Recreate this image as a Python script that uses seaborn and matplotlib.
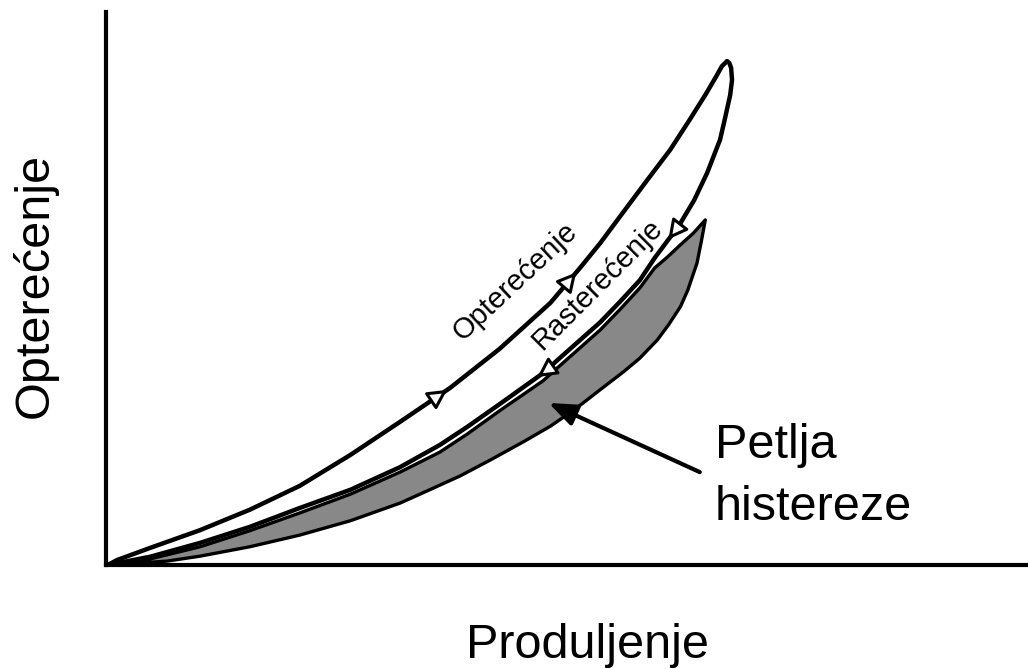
import numpy as np
import pandas as pd
import matplotlib
matplotlib.use("Agg")
import matplotlib.pyplot as plt
import seaborn as sns

# ---- data (x = elongation, y = load, arbitrary units 0..100)
loading_x = [0.2, 1.2, 4.8, 10.2, 15.6, 21.0, 26.5, 31.9, 37.3, 42.7, 48.2, 51.4,
             53.6, 56.1, 58.7, 61.2, 63.3, 65.0, 66.2, 66.8, 67.35]
loading_y = [0.0, 0.9, 3.1, 6.3, 10.0, 14.3, 19.9, 25.9, 32.0, 39.1, 47.4, 53.7,
             58.2, 63.8, 69.6, 75.1, 80.5, 85.0, 88.4, 90.2, 91.1]

unloading_x = [67.35, 67.6, 67.8, 67.9, 67.7, 67.1, 66.6, 65.2, 63.8, 62.3, 61.2, 59.5,
               57.9, 55.8, 53.6, 49.2, 47.4, 42.7, 39.2, 36.2, 31.9, 26.5, 21.0, 15.6,
               10.2, 4.8, 0.2]
unloading_y = [91.1, 90.8, 89.9, 87.7, 85.0, 80.5, 76.9, 70.9, 66.0, 61.8, 59.3, 55.5,
               51.5, 47.7, 43.9, 37.4, 34.7, 29.1, 25.0, 21.7, 17.7, 13.6, 10.3, 6.9,
               4.0, 1.5, 0.0]

loop_upper_x = [65.0, 63.7, 62.3, 60.9, 59.5, 57.9, 55.8, 53.6, 49.2, 47.4, 42.7, 39.2,
                36.2, 31.9, 26.5, 21.0, 15.6, 10.2, 4.8, 0.4]
loop_upper_y = [62.4, 60.0, 57.9, 55.7, 53.7, 50.1, 46.3, 42.5, 36.0, 33.3, 27.9, 23.7,
                20.4, 16.8, 12.8, 9.4, 6.2, 3.3, 1.1, 0.0]
loop_lower_x = [65.0, 64.6, 64.1, 63.1, 62.3, 61.0, 59.8, 57.9, 56.1, 53.6, 50.9, 48.2,
                45.4, 41.7, 38.4, 35.1, 31.9, 26.5, 21.0, 15.6, 10.2, 6.6, 0.4]
loop_lower_y = [62.4, 58.8, 54.6, 49.7, 46.7, 43.4, 40.7, 37.4, 34.9, 31.7, 28.2, 25.1,
                22.4, 19.0, 16.1, 13.6, 11.2, 8.0, 5.4, 3.3, 1.6, 0.7, 0.0]

# arrow positions along the loading curve (x values) and on the unloading curve
loading_arrows_x = [37.0, 51.0]
unloading_arrows = [(62.4, 61.9, 61.0, 58.9), (48.0, 35.4, 46.8, 34.0)]  # (from x,y, to x,y)

x_label = "Produljenje"
y_label = "Opterećenje"
load_label = "Opterećenje"
unload_label = "Rasterećenje"
loop_label = ["Petlja", "histereze"]

# ---- figure
sns.set_theme(style="white")
plt.rcParams['font.family'] = ['Liberation Sans', 'DejaVu Sans']
plt.rcParams['text.color'] = 'black'

fig = plt.figure(figsize=(10.28, 6.69), dpi=100)
ax = fig.add_axes([106 / 1028, 104 / 669, 922 / 1028, 553 / 669])
ax.set_xlim(0, 100)
ax.set_ylim(0, 100)

# shaded hysteresis loop
poly_x = np.concatenate([loop_upper_x, loop_lower_x[::-1]])
poly_y = np.concatenate([loop_upper_y, loop_lower_y[::-1]])
ax.fill(poly_x, poly_y, facecolor="#888888", edgecolor="black", lw=2.4,
        joinstyle="round", zorder=2)

# loading / unloading curves
df_load = pd.DataFrame({"x": loading_x, "y": loading_y})
df_unload = pd.DataFrame({"x": unloading_x, "y": unloading_y})
sns.lineplot(data=df_load, x="x", y="y", sort=False, estimator=None, color="black",
             lw=3.2, ax=ax, zorder=3, solid_joinstyle="round", solid_capstyle="round")
sns.lineplot(data=df_unload, x="x", y="y", sort=False, estimator=None, color="black",
             lw=3.2, ax=ax, zorder=3, solid_joinstyle="round", solid_capstyle="round")

# open arrowheads
aprops = dict(arrowstyle="-|>,head_length=0.95,head_width=0.5", fc="white", ec="black",
              lw=2.2, shrinkA=0, shrinkB=0)
for xa in loading_arrows_x:
    ya = np.interp(xa, loading_x, loading_y)
    xb = xa - 1.5
    yb = np.interp(xb, loading_x, loading_y)
    ax.annotate("", xy=(xa, ya), xytext=(xb, yb), arrowprops=aprops, zorder=4)
for (x0, y0, x1, y1) in unloading_arrows:
    ax.annotate("", xy=(x1, y1), xytext=(x0, y0), arrowprops=aprops, zorder=4)

# curve labels
ax.text(44.4, 51.2, load_label, rotation=43, rotation_mode="anchor", ha="center",
        va="center", fontsize=21, zorder=5)
ax.text(53.3, 50.8, unload_label, rotation=45, rotation_mode="anchor", ha="center",
        va="center", fontsize=21, zorder=5)

# loop annotation
ax.annotate("", xy=(48.0, 29.3), xytext=(64.4, 16.8),
            arrowprops=dict(arrowstyle="-|>,head_length=1.4,head_width=0.55",
                            fc="black", ec="black", lw=3.0, shrinkA=0, shrinkB=0),
            zorder=5)
ax.text(66.0, 19.4, loop_label[0], fontsize=35, ha="left", va="baseline")
ax.text(66.0, 8.1, loop_label[1], fontsize=35, ha="left", va="baseline")

# axes styling
sns.despine(ax=ax)
for s in ["left", "bottom"]:
    ax.spines[s].set_linewidth(3.0)
    ax.spines[s].set_color("black")
ax.set_xticks([])
ax.set_yticks([])
ax.set_xlabel("")
ax.set_ylabel("")

fig.text(587 / 1028, 1 - 658 / 669, x_label, fontsize=35, ha="center", va="baseline")
fig.text(35 / 1028, 1 - 285 / 669, y_label, fontsize=35, rotation=90, ha="center",
         va="center")

fig.savefig("out.png", dpi=100)
